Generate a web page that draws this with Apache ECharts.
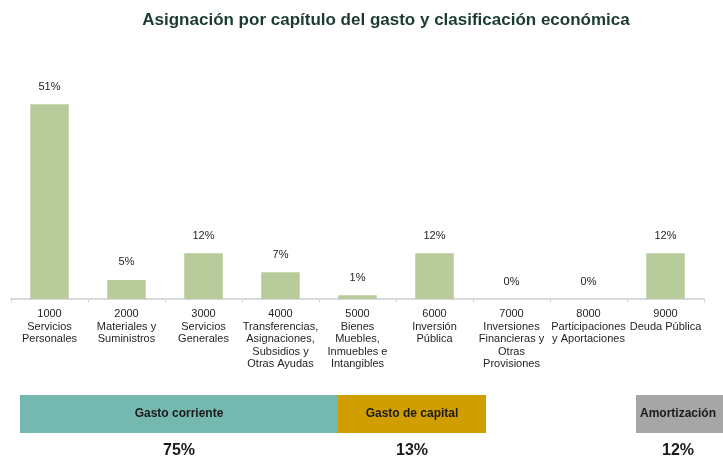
<!DOCTYPE html>
<html>
<head>
<meta charset="utf-8">
<script src="https://cdn.jsdelivr.net/npm/echarts@6/dist/echarts.min.js"></script>
<style>
  html, body { margin: 0; padding: 0; background: #fff; }
  #main { width: 723px; height: 460px; }
</style>
</head>
<body>
<div id="main"></div>
<script>
// capitulos del gasto
var categories = [
  '1000\nServicios\nPersonales',
  '2000\nMateriales y\nSuministros',
  '3000\nServicios\nGenerales',
  '4000\nTransferencias,\nAsignaciones,\nSubsidios y\nOtras Ayudas',
  '5000\nBienes\nMuebles,\nInmuebles e\nIntangibles',
  '6000\nInversión\nPública',
  '7000\nInversiones\nFinancieras y\nOtras\nProvisiones',
  '8000\nParticipaciones\ny Aportaciones',
  '9000\nDeuda Pública'
];
var shares = [51, 5, 12, 7, 1, 12, 0, 0, 12];

// clasificacion economica
var groupNames = ['Gasto corriente', 'Gasto de capital', 'Amortización'];
var groupShares = [75, 13, 12];

// bloques (solo layout)
var blocks = [
  { x: 20, w: 318, color: '#75b8b0' },
  { x: 338, w: 148, color: '#d19e00' },
  { x: 636, w: 87, color: '#a6a6a6' }
];
var pctX = [179, 412, 678];

var chart = echarts.init(document.getElementById('main'));

var graphics = [];
blocks.forEach(function (b, i) {
  graphics.push({
    type: 'rect',
    shape: { x: b.x, y: 395, width: b.w, height: 38 },
    style: { fill: b.color }
  });
  graphics.push({
    type: 'text',
    x: i == 2 ? 678 : b.x + b.w / 2, y: 414,
    style: {
      text: groupNames[i], fill: '#1a1a1a',
      font: 'bold 12px "Liberation Sans", Arial',
      textAlign: 'center', textVerticalAlign: 'middle'
    }
  });
  graphics.push({
    type: 'text',
    x: pctX[i], y: 451,
    style: {
      text: groupShares[i] + '%', fill: '#1a1a1a',
      font: 'bold 16px "Liberation Sans", Arial',
      textAlign: 'center', textVerticalAlign: 'middle'
    }
  });
});

var option = {
  backgroundColor: '#fff',
  animation: false,
  title: {
    text: 'Asignación por capítulo del gasto y clasificación económica',
    left: 381, top: 7, textAlign: 'center',
    textStyle: { color: '#1b3b30', fontSize: 17, fontWeight: 'bold', fontFamily: '"Liberation Sans", Arial' }
  },
  grid: { left: 11, right: 19, top: 70, bottom: 161 },
  xAxis: {
    type: 'category',
    data: categories,
    axisLine: { lineStyle: { color: '#d9d9d9', width: 2 } },
    axisTick: { show: true, length: 4, lineStyle: { color: '#d9d9d9' } },
    axisLabel: {
      interval: 0, color: '#1f1f1f', fontSize: 11, lineHeight: 12.5,
      fontFamily: '"Liberation Sans", Arial', margin: 9
    }
  },
  yAxis: { type: 'value', min: 0, max: 60, show: false, splitLine: { show: false } },
  series: [{
    type: 'bar',
    data: shares,
    barWidth: '50%',
    itemStyle: { color: '#b7cb9b' },
    label: {
      show: true, position: 'top', distance: 12,
      formatter: '{c}%', color: '#1f1f1f', fontSize: 11,
      fontFamily: '"Liberation Sans", Arial'
    }
  }],
  graphic: graphics
};

chart.setOption(option);
</script>
</body>
</html>
